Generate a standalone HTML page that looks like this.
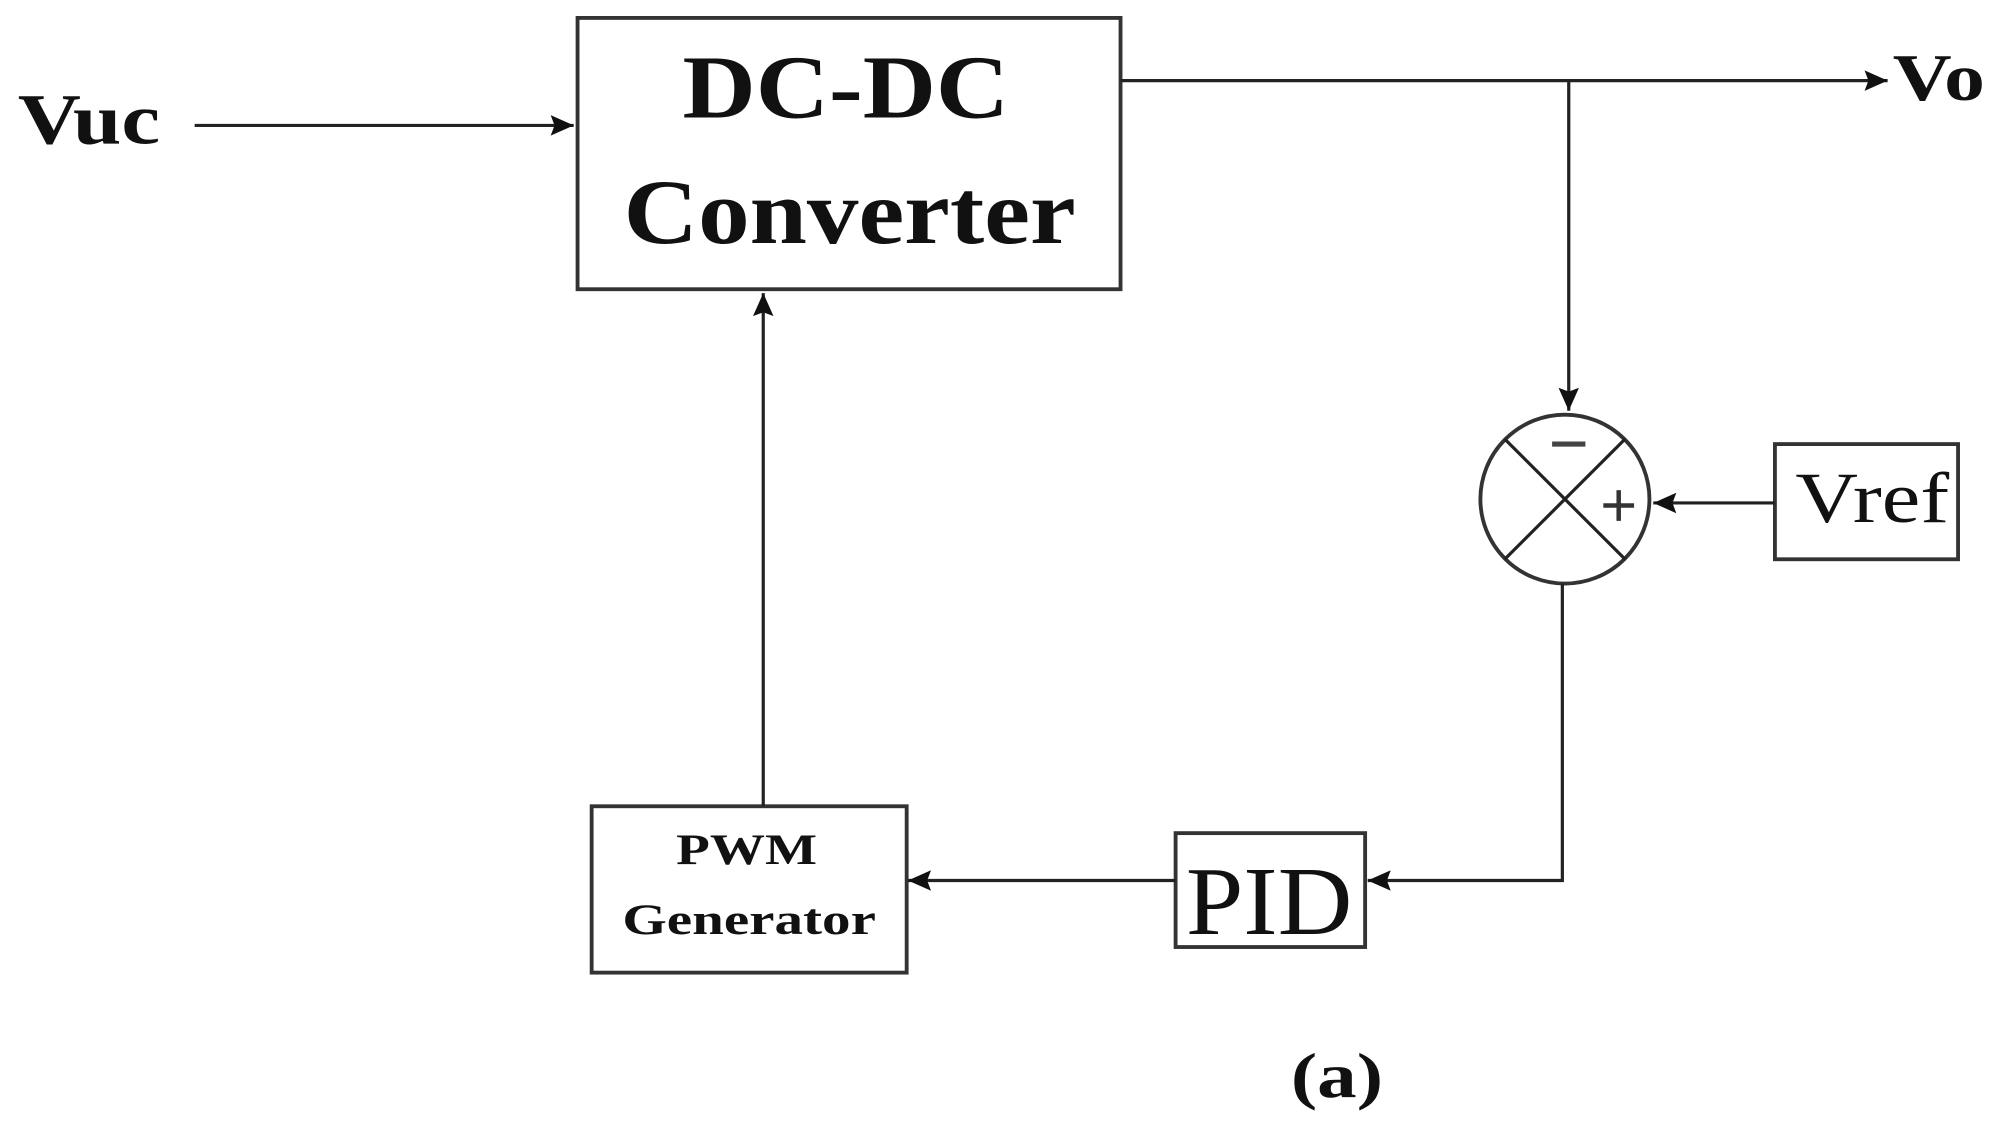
<!DOCTYPE html>
<html><head><style>html,body{margin:0;padding:0;background:#fff;}svg{display:block}</style></head>
<body>
<svg width="2008" height="1139" viewBox="0 0 1568 890" preserveAspectRatio="none" xmlns="http://www.w3.org/2000/svg">
<defs><marker id="b" markerWidth="20" markerHeight="20" refX="18" refY="10" orient="auto" markerUnits="userSpaceOnUse"><path d="M0,2 L18,10 L0,18 L3,10 z" fill="#111"/></marker></defs>
<g stroke="#333" stroke-width="3" fill="none">
<rect x="451" y="14" width="424" height="212"/>
<rect x="1386" y="347" width="143" height="90"/>
<rect x="918" y="651" width="148" height="89"/>
<rect x="462" y="630" width="246" height="130"/>
<circle cx="1222" cy="390" r="66"/>
</g>
<g stroke="#222" stroke-width="2.5" fill="none">
<line x1="1175" y1="343" x2="1269" y2="437"/>
<line x1="1269" y1="343" x2="1175" y2="437"/>
<line x1="152" y1="98" x2="448" y2="98" marker-end="url(#b)"/>
<line x1="875" y1="63" x2="1474" y2="63" marker-end="url(#b)"/>
<line x1="1225" y1="63" x2="1225" y2="321" marker-end="url(#b)"/>
<line x1="1386" y1="393" x2="1291" y2="393" marker-end="url(#b)"/>
<polyline points="1220,456 1220,688 1068,688" marker-end="url(#b)"/>
<line x1="918" y1="688" x2="709" y2="688" marker-end="url(#b)"/>
<line x1="596" y1="630" x2="596" y2="229" marker-end="url(#b)"/>
</g>
<g font-family="Liberation Serif, serif" fill="#111">
<text x="533" y="92" font-size="70" font-weight="bold" textLength="255" lengthAdjust="spacingAndGlyphs">DC-DC</text>
<text x="487" y="190" font-size="72" font-weight="bold" textLength="353" lengthAdjust="spacingAndGlyphs">Converter</text>
<text x="14" y="112" font-size="56" font-weight="bold" textLength="111" lengthAdjust="spacingAndGlyphs">Vuc</text>
<text x="1478" y="78" font-size="52" font-weight="bold" textLength="72" lengthAdjust="spacingAndGlyphs">Vo</text>
<text x="1402" y="408" font-size="56" textLength="120" lengthAdjust="spacingAndGlyphs">Vref</text>
<text x="926" y="730" font-size="76" textLength="130" lengthAdjust="spacingAndGlyphs">PID</text>
<text x="528" y="675" font-size="34" font-weight="bold" textLength="110" lengthAdjust="spacingAndGlyphs">PWM</text>
<text x="486" y="730" font-size="34" font-weight="bold" textLength="198" lengthAdjust="spacingAndGlyphs">Generator</text>
<text x="1008" y="857" font-size="50" font-weight="bold" textLength="72" lengthAdjust="spacingAndGlyphs">(a)</text>
</g>
<line x1="1212" y1="347" x2="1238" y2="347" stroke="#444" stroke-width="4"/>
<line x1="1252" y1="395" x2="1276" y2="395" stroke="#333" stroke-width="3.5"/>
<line x1="1264" y1="383" x2="1264" y2="407" stroke="#333" stroke-width="3.5"/>
</svg>
</body></html>
